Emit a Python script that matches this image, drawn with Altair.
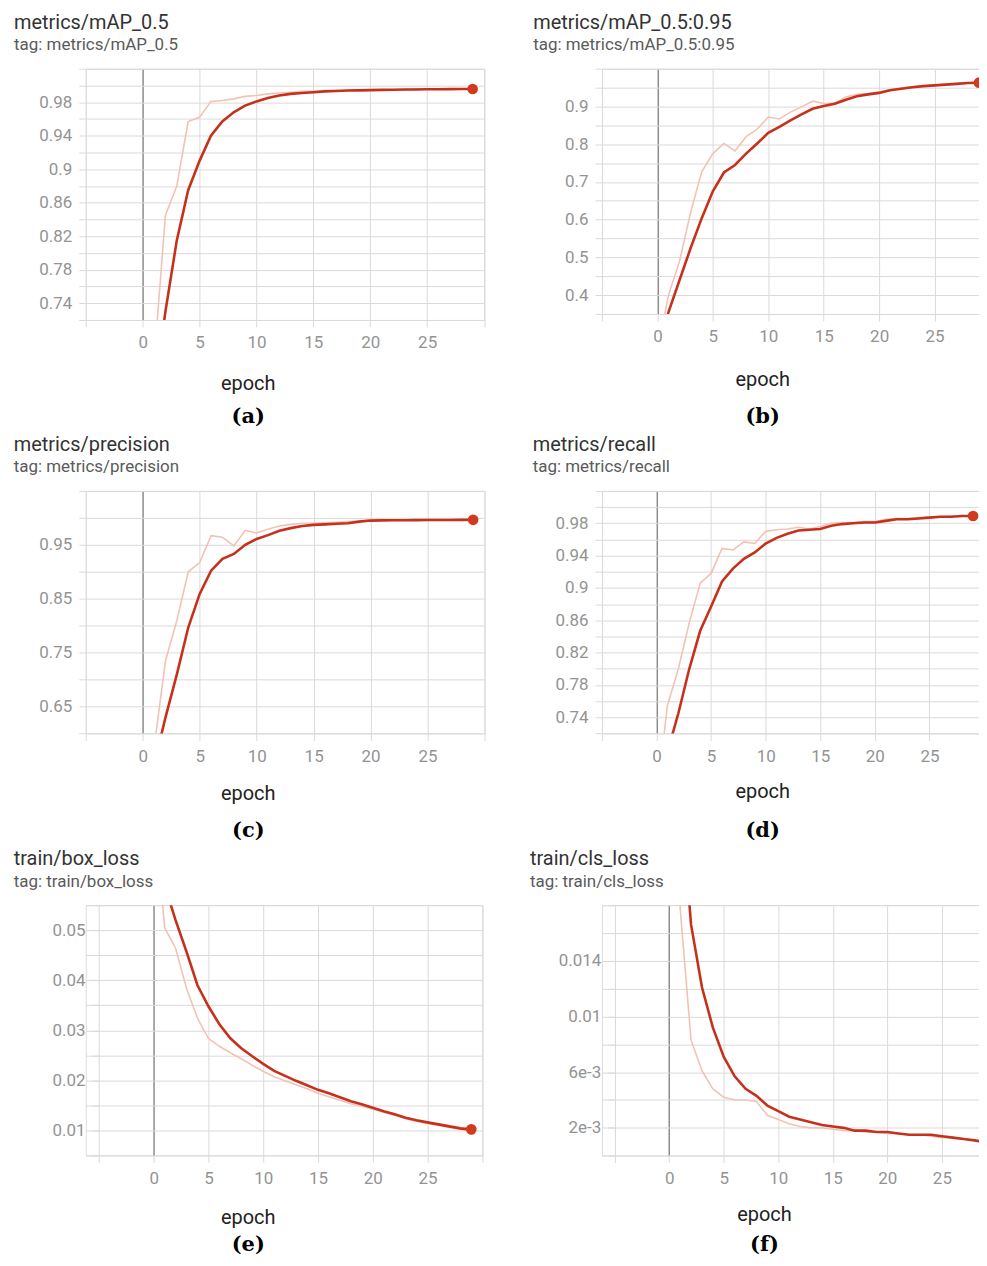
import altair as alt
import pandas as pd

EPOCHS = list(range(30))

# ---------------- data ----------------
names = ["metrics/mAP_0.5", "metrics/mAP_0.5:0.95", "metrics/precision",
         "metrics/recall", "train/box_loss", "train/cls_loss"]
panel_letters = ["(a)", "(b)", "(c)", "(d)", "(e)", "(f)"]

raw_a = [0.30, 0.67, 0.845, 0.88, 0.957, 0.962, 0.981, 0.982, 0.984, 0.987, 0.988, 0.990, 0.991, 0.992, 0.993,
         0.993, 0.994, 0.994, 0.994, 0.995, 0.995, 0.995, 0.995, 0.995, 0.996, 0.996, 0.996, 0.996, 0.996, 0.996]
smooth_a = [0.45, 0.63, 0.73, 0.815, 0.875, 0.91, 0.94, 0.957, 0.968, 0.976, 0.981, 0.985, 0.988, 0.990, 0.991,
            0.992, 0.993, 0.9935, 0.994, 0.9942, 0.9945, 0.9948, 0.995, 0.9952, 0.9953, 0.9955, 0.9956, 0.9957,
            0.9958, 0.9958]

raw_b = [0.25, 0.40, 0.49, 0.62, 0.727, 0.775, 0.802, 0.782, 0.82, 0.84, 0.872, 0.867, 0.885, 0.899, 0.914,
         0.908, 0.909, 0.925, 0.932, 0.934, 0.938, 0.945, 0.949, 0.952, 0.955, 0.957, 0.959, 0.961, 0.963, 0.964]
smooth_b = [0.25, 0.355, 0.44, 0.525, 0.604, 0.675, 0.725, 0.745, 0.775, 0.802, 0.83, 0.846, 0.863, 0.879, 0.894,
            0.901, 0.907, 0.918, 0.927, 0.932, 0.936, 0.943, 0.947, 0.951, 0.954, 0.956, 0.958, 0.960, 0.962, 0.963]

raw_c = [0.30, 0.574, 0.735, 0.81, 0.90, 0.917, 0.967, 0.964, 0.948, 0.977, 0.972, 0.979, 0.985, 0.988, 0.99,
         0.99, 0.991, 0.992, 0.993, 0.994, 0.996, 0.996, 0.996, 0.996, 0.996, 0.997, 0.997, 0.997, 0.997, 0.997]
smooth_c = [0.40, 0.542, 0.63, 0.71, 0.797, 0.859, 0.902, 0.924, 0.933, 0.95, 0.961, 0.968, 0.976, 0.981, 0.985,
            0.987, 0.988, 0.989, 0.99, 0.993, 0.995, 0.9953, 0.9955, 0.9957, 0.9958, 0.996, 0.996, 0.9962, 0.9963,
            0.9964]

raw_d = [0.638, 0.755, 0.80, 0.857, 0.906, 0.918, 0.949, 0.947, 0.957, 0.955, 0.97, 0.972, 0.973, 0.975, 0.973,
         0.976, 0.98, 0.981, 0.981, 0.982, 0.982, 0.985, 0.986, 0.986, 0.987, 0.988, 0.988, 0.989, 0.989, 0.99]
smooth_d = [0.60, 0.697, 0.745, 0.80, 0.847, 0.877, 0.908, 0.924, 0.936, 0.944, 0.955, 0.962, 0.967, 0.971, 0.972,
            0.973, 0.977, 0.979, 0.98, 0.981, 0.981, 0.983, 0.985, 0.985, 0.986, 0.987, 0.988, 0.988, 0.989, 0.989]

raw_e = [0.0755, 0.0505, 0.0464, 0.0384, 0.0324, 0.0284, 0.0268, 0.0255, 0.0243, 0.023, 0.0218, 0.0207, 0.0199,
         0.0191, 0.0183, 0.0174, 0.0167, 0.016, 0.0153, 0.0148, 0.0142, 0.0136, 0.013, 0.0123, 0.0118, 0.0114,
         0.011, 0.0106, 0.0102, 0.0099]
smooth_e = [0.075, 0.059, 0.052, 0.0457, 0.039, 0.0348, 0.0312, 0.0284, 0.0264, 0.0248, 0.0233, 0.0219, 0.0209,
            0.0199, 0.019, 0.0181, 0.0174, 0.0166, 0.0158, 0.0152, 0.0145, 0.0138, 0.0132, 0.0125, 0.012, 0.0116,
            0.0112, 0.0108, 0.0104, 0.0102]

raw_f = [0.03, 0.0178, 0.0083, 0.0061, 0.0048, 0.0042, 0.004, 0.004, 0.0039, 0.0029, 0.0026, 0.0023, 0.0021,
         0.002, 0.002, 0.0019, 0.0018, 0.0018, 0.0017, 0.0017, 0.0016, 0.0016, 0.0015, 0.0015, 0.0014, 0.0013,
         0.0013, 0.0012, 0.0011, 0.0009]
smooth_f = [0.04, 0.0264, 0.0166, 0.0121, 0.0092, 0.0071, 0.0057, 0.0048, 0.0043, 0.0036, 0.0032, 0.0028, 0.0026,
            0.0024, 0.0022, 0.0021, 0.002, 0.0018, 0.0018, 0.0017, 0.0017, 0.0016, 0.0015, 0.0015, 0.0015, 0.0014,
            0.0013, 0.0012, 0.0011, 0.00096]

# axis tick values / labels
x_grid_full = [-5, 0, 5, 10, 15, 20, 25, 30]
x_grid_cut = [-5, 0, 5, 10, 15, 20, 25]

y_grid_a = [0.72, 0.74, 0.76, 0.78, 0.8, 0.82, 0.84, 0.86, 0.88, 0.9, 0.92, 0.94, 0.96, 0.98, 1.0, 1.02]
y_lab_a = [0.74, 0.78, 0.82, 0.86, 0.9, 0.94, 0.98]
y_txt_a = ["0.74", "0.78", "0.82", "0.86", "0.9", "0.94", "0.98"]

y_grid_b = [0.35, 0.4, 0.45, 0.5, 0.55, 0.6, 0.65, 0.7, 0.75, 0.8, 0.85, 0.9, 0.95, 1.0]
y_lab_b = [0.4, 0.5, 0.6, 0.7, 0.8, 0.9]
y_txt_b = ["0.4", "0.5", "0.6", "0.7", "0.8", "0.9"]

y_grid_c = [0.6, 0.65, 0.7, 0.75, 0.8, 0.85, 0.9, 0.95, 1.0, 1.05]
y_lab_c = [0.65, 0.75, 0.85, 0.95]
y_txt_c = ["0.65", "0.75", "0.85", "0.95"]

y_grid_d = y_grid_a
y_lab_d = y_lab_a
y_txt_d = y_txt_a

y_grid_e = [0.005, 0.01, 0.015, 0.02, 0.025, 0.03, 0.035, 0.04, 0.045, 0.05, 0.055]
y_lab_e = [0.01, 0.02, 0.03, 0.04, 0.05]
y_txt_e = ["0.01", "0.02", "0.03", "0.04", "0.05"]

y_grid_f = [0.0, 0.002, 0.004, 0.006, 0.008, 0.01, 0.012, 0.014, 0.016, 0.018]
y_lab_f = [0.002, 0.006, 0.01, 0.014]
y_txt_f = ["2e-3", "6e-3", "0.01", "0.014"]

# ---------------- styling ----------------
RAW_COLOR = "#f3c2b6"
SMOOTH_COLOR = "#c5311b"
POINT_COLOR = "#d23a1d"
GRID = "#dadada"
ZERO = "#8c8c8c"
LABEL = "#939393"
TICK_FS = 17


def label_expr(vals, txts):
    v = "[" + ",".join(repr(x) for x in vals) + "]"
    t = "[" + ",".join("'" + s + "'" for s in txts) + "]"
    return f"indexof({v}, datum.value) >= 0 ? {t}[indexof({v}, datum.value)] : ''"


def panel(i, raw, smooth, xdom, xgrid, ydom, ygrid, ylab, ytxt, w, h, dx, yoff,
          ex, ey, ly):
    df = pd.DataFrame({"epoch": EPOCHS, "raw": raw, "smooth": smooth})
    xs = alt.Scale(domain=xdom, nice=False, zero=False)
    ys = alt.Scale(domain=ydom, nice=False, zero=False)
    yaxis_kw = dict(values=ygrid, labelExpr=label_expr(ylab, ytxt), grid=True,
                    gridColor=GRID, tickColor=GRID, tickSize=7, labelPadding=7,
                    labelOverlap=False, labelFlush=False, domain=False, title=None,
                    labelFont="Roboto", labelFontSize=TICK_FS, labelColor=LABEL)
    if yoff:
        yaxis_kw["offset"] = yoff
    yaxis = alt.Axis(**yaxis_kw)
    main_x = alt.Axis(values=xgrid,
                      labelExpr="datum.value >= 0 && datum.value <= 25 ? datum.value + '' : ''",
                      grid=True,
                      gridColor={"condition": {"test": "datum.value === 0", "value": ZERO}, "value": GRID},
                      gridWidth={"condition": {"test": "datum.value === 0", "value": 1.5}, "value": 1},
                      tickColor=GRID, tickSize=7, labelPadding=8, labelOverlap=False,
                      labelFlush=False, domain=False,
                      labelFont="Roboto", labelFontSize=TICK_FS, labelColor=LABEL,
                      title="epoch", titleFont="Roboto", titleFontSize=20,
                      titleFontWeight="normal", titleColor="#222222",
                      titleX=ex, titleY=ey, titleBaseline="alphabetic", titleAlign="center")
    letter_x = alt.Axis(orient="bottom", labels=False, ticks=False, grid=False, domain=False,
                        title=panel_letters[i], titleFont="DejaVu Serif", titleFontSize=21,
                        titleFontWeight="bold", titleColor="#000000",
                        titleX=ex, titleY=ly, titleBaseline="alphabetic", titleAlign="center")
    base = alt.Chart(df)
    l_raw = base.mark_line(color=RAW_COLOR, strokeWidth=1.6, clip=True).encode(
        x=alt.X("epoch:Q", scale=xs, axis=main_x),
        y=alt.Y("raw:Q", scale=ys, axis=yaxis))
    l_smooth = base.mark_line(color=SMOOTH_COLOR, strokeWidth=2.6, clip=True).encode(
        x=alt.X("epoch:Q", scale=xs, axis=letter_x),
        y=alt.Y("smooth:Q", scale=ys, axis=yaxis))
    l_pt = base.transform_filter(alt.datum.epoch == EPOCHS[-1]).mark_circle(
        color=POINT_COLOR, size=115, opacity=1, clip=True).encode(
        x=alt.X("epoch:Q", scale=xs, axis=None),
        y=alt.Y("smooth:Q", scale=ys, axis=yaxis))
    return alt.layer(l_raw, l_smooth, l_pt).resolve_axis(x="independent").properties(
        width=w, height=h,
        title=alt.TitleParams(text=names[i], subtitle="tag: " + names[i], anchor="start",
                              frame="group", dx=dx, offset=6.5, orient="top",
                              font="Roboto", fontSize=20, fontWeight="normal", color="#333333",
                              subtitleFont="Roboto", subtitleFontSize=17,
                              subtitleColor="#5a5a5a", subtitlePadding=4.5))


pa = panel(0, raw_a, smooth_a, [-5, 30], x_grid_full, [0.72, 1.02], y_grid_a, y_lab_a, y_txt_a,
           399.5, 252, -72, 0, 162.5, 69.8, 103.1)
pb = panel(1, raw_b, smooth_b, [-5, 29.61], x_grid_cut, [0.35, 1.0], y_grid_b, y_lab_b, y_txt_b,
           384.9, 246, -69, 0, 160.7, 71.8, 108.9)
pc = panel(2, raw_c, smooth_c, [-5, 30], x_grid_full, [0.6, 1.05], y_grid_c, y_lab_c, y_txt_c,
           400, 243.3, -72.3, 0, 162.5, 66.5, 103.1)
pd_ = panel(3, raw_d, smooth_d, [-5, 30], x_grid_full, [0.72, 1.02], y_grid_d, y_lab_d, y_txt_d,
            383.2, 243.3, -69.5, 0, 160.7, 64.5, 103.1)
pe = panel(4, raw_e, smooth_e, [-6.2, 30], x_grid_full, [0.005, 0.055], y_grid_e, y_lab_e, y_txt_e,
           397.7, 251, -72.3, -13.2, 162.5, 68.5, 95.5)
pf = panel(5, raw_f, smooth_f, [-6.17, 29.18], x_grid_cut, [0.0, 0.018], y_grid_f, y_lab_f, y_txt_f,
           386.7, 251.3, -72.2, -12.8, 162.5, 65.2, 95.2)

chart = alt.concat(
    pa, pb, pc, pd_, pe, pf, columns=2,
    spacing={"row": 171.5, "column": 117.8},
    align={"row": "each", "column": "none"},
    bounds="flush",
).properties(
    padding={"left": 5, "top": 2, "right": -9, "bottom": 0}
).configure_view(stroke="transparent").configure(background="white")

chart.save("out.html", embed_options={"renderer": "svg", "actions": False})
